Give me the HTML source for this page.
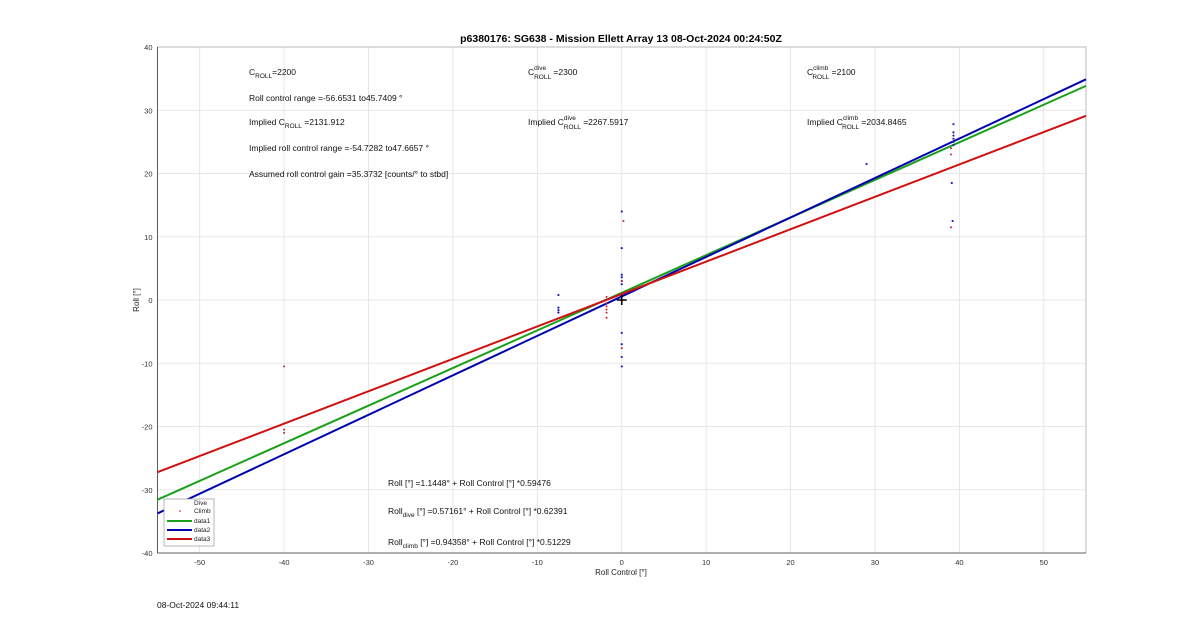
<!DOCTYPE html>
<html><head><meta charset="utf-8"><style>
body{margin:0;background:#fff;font-family:"Liberation Sans",sans-serif}
svg text{font-family:"Liberation Sans",sans-serif}
</style></head><body>
<svg width="1200" height="622" xmlns="http://www.w3.org/2000/svg">
<rect width="1200" height="622" fill="#fff"/>
<g id="grid"></g>
<g id="axes"></g>
<g id="marks"></g>
<text x="621" y="42" font-size="10.5" font-weight="bold" text-anchor="middle">p6380176: SG638 - Mission Ellett Array 13 08-Oct-2024 00:24:50Z</text>
<text x="621" y="575" font-size="8" text-anchor="middle" fill="#222">Roll Control [°]</text>
<text transform="translate(139,300) rotate(-90)" font-size="8" text-anchor="middle" fill="#222">Roll [°]</text>
<g font-size="8.5" fill="#111">
<text x="249" y="75">C<tspan font-size="6.5" dy="3">ROLL</tspan><tspan dy="-3">=2200</tspan></text>
<text x="249" y="101">Roll control range =-56.6531 to45.7409 °</text>
<text x="249" y="125">Implied C<tspan font-size="6.5" dy="3">ROLL</tspan><tspan dy="-3"> =2131.912</tspan></text>
<text x="249" y="151">Implied roll control range =-54.7282 to47.6657 °</text>
<text x="249" y="177">Assumed roll control gain =35.3732 [counts/° to stbd]</text>
<text x="528" y="75">C<tspan font-size="6.5" dy="-5">dive</tspan><tspan font-size="6.5" dx="-12" dy="9">ROLL</tspan><tspan dy="-4"> =2300</tspan></text>
<text x="528" y="125">Implied C<tspan font-size="6.5" dy="-5">dive</tspan><tspan font-size="6.5" dx="-12" dy="9">ROLL</tspan><tspan dy="-4"> =2267.5917</tspan></text>
<text x="807" y="75">C<tspan font-size="6.5" dy="-5">climb</tspan><tspan font-size="6.5" dx="-16" dy="9">ROLL</tspan><tspan dy="-4"> =2100</tspan></text>
<text x="807" y="125">Implied C<tspan font-size="6.5" dy="-5">climb</tspan><tspan font-size="6.5" dx="-16" dy="9">ROLL</tspan><tspan dy="-4"> =2034.8465</tspan></text>
<text x="388" y="486">Roll [°] =1.1448° + Roll Control [°] *0.59476</text>
<text x="388" y="514">Roll<tspan font-size="6.5" dy="3">dive</tspan><tspan dy="-3"> [°] =0.57161° + Roll Control [°] *0.62391</tspan></text>
<text x="388" y="545">Roll<tspan font-size="6.5" dy="3">climb</tspan><tspan dy="-3"> [°] =0.94358° + Roll Control [°] *0.51229</tspan></text>
</g>
<text x="157" y="608" font-size="8.5" fill="#111">08-Oct-2024 09:44:11</text>
<g font-size="6.5" fill="#222">
<rect x="164" y="499" width="50" height="47" fill="#fff" stroke="#999" stroke-width="0.7"/>
<text x="194" y="505">Dive</text>
<circle cx="180" cy="511" r="0.8" fill="#c00"/>
<text x="194" y="513">Climb</text>
<line x1="167" y1="521" x2="192" y2="521" stroke="#1aa01a" stroke-width="2"/>
<text x="194" y="523">data1</text>
<line x1="167" y1="530" x2="192" y2="530" stroke="#0000b0" stroke-width="2"/>
<text x="194" y="532">data2</text>
<line x1="167" y1="539" x2="192" y2="539" stroke="#d01010" stroke-width="2"/>
<text x="194" y="541">data3</text>
</g>
</svg>
<script>
const xTicks=[-50,-40,-30,-20,-10,0,10,20,30,40,50];
const yTicks=[-40,-30,-20,-10,0,10,20,30,40];
const diveX=[-7.5,-7.5,-7.5,-7.5,0,0,0,0,0,0,0,0,0,0,0,29,39.3,39.3,39.3,39.3,39.3,39.3,39.1,39.2];
const diveY=[0.8,-1.2,-1.6,-2,14,8.2,4,3.6,3,2.5,-5.2,-7,-9,-10.5,0,21.5,27.8,26.5,26,25.5,25,24.5,18.5,12.5];
const climbX=[-40,-40,-40,-1.8,-1.8,-1.8,-1.8,-1.8,-1.8,0.2,0,0,39,39,39];
const climbY=[-10.5,-20.5,-21,0.5,-0.5,-1,-1.5,-2,-2.8,12.5,3,-7.6,23,24,11.5];
const fitIntercepts=[1.1448,0.57161,0.94358];
const fitSlopes=[0.59476,0.62391,0.51229];
const fitColors=["#1aa01a","#0000b0","#d01010"];
const X0=157.5,X1=1086,Y0=47,Y1=553,xmin=-55,xmax=55,ymin=-40,ymax=40;
const sx=v=>X0+(v-xmin)/(xmax-xmin)*(X1-X0);
const sy=v=>Y1-(v-ymin)/(ymax-ymin)*(Y1-Y0);
const NS="http://www.w3.org/2000/svg";
function mk(p,t,a){const e=document.createElementNS(NS,t);for(const k in a)e.setAttribute(k,a[k]);p.appendChild(e);return e;}
const g=document.getElementById('grid'),ax=document.getElementById('axes'),m=document.getElementById('marks');
xTicks.forEach(v=>{const l=mk(g,'line',{x1:sx(v),x2:sx(v),y1:Y0,y2:Y1,stroke:'#e0e0e0','stroke-width':0.8});


const t=mk(ax,'text',{x:sx(v),y:Y1+12,'font-size':7.5,'text-anchor':'middle',fill:'#333'});t.textContent=v;

});
yTicks.forEach(v=>{const l=mk(g,'line',{x1:X0,x2:X1,y1:sy(v),y2:sy(v),stroke:'#e0e0e0','stroke-width':0.8});


const t=mk(ax,'text',{x:X0-5,y:sy(v)+3,'font-size':7.5,'text-anchor':'end',fill:'#333'});t.textContent=v;

});
const box=mk(ax,'path',{d:`M${X0},${Y0}H${X1}V${Y1}`,fill:'none',stroke:'#aaa','stroke-width':0.8});


const axl=mk(ax,'path',{d:`M${X0},${Y0}V${Y1}H${X1}`,fill:'none',stroke:'#333','stroke-width':0.8});


fitSlopes.forEach((s,i)=>{const b=fitIntercepts[i];
const l=mk(m,'line',{x1:sx(xmin),y1:sy(b+s*xmin),x2:sx(xmax),y2:sy(b+s*xmax),stroke:fitColors[i],'stroke-width':2});

});
diveX.forEach((x,i)=>{const c=mk(m,'circle',{cx:sx(x),cy:sy(diveY[i]),r:1.1,fill:'#2020c0'});

});
climbX.forEach((x,i)=>{const c=mk(m,'circle',{cx:sx(x),cy:sy(climbY[i]),r:1,fill:'#d02020'});

});
const p=mk(m,'path',{d:`M${sx(0)-5},${sy(0)}h10M${sx(0)},${sy(0)-5}v10`,stroke:'#000','stroke-width':1.6});


</script>
</body></html>
